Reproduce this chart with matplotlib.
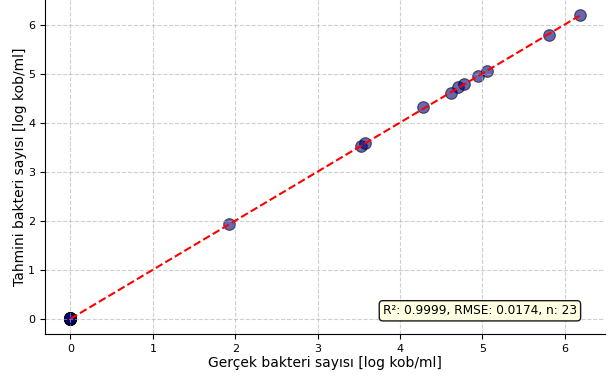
import numpy as np
import matplotlib
matplotlib.use("Agg")
import matplotlib.pyplot as plt

# gerçek / tahmini (log kob/ml)
actual = [0, 0, 0, 0, 0, 0, 0, 0, 0, 0, 0, 0,
          1.92, 3.53, 3.57, 4.28, 4.62, 4.71, 4.78, 4.95, 5.06, 5.81, 6.18]
predicted = [0.01, 0, 0.02, 0, 0.01, 0, 0, 0.01, 0, 0.02, 0, 0.01,
             1.94, 3.52, 3.58, 4.32, 4.61, 4.72, 4.79, 4.96, 5.05, 5.78, 6.19]
stats_text = "R²: 0.9999, RMSE: 0.0174, n: 23"

fig = plt.figure(figsize=(6.09, 3.76), dpi=100)
ax = fig.add_axes([45/609, 42/376, 560/609, 334/376])

ax.scatter(actual, predicted, s=70, color="navy", alpha=0.6, edgecolors="k", linewidths=0.8)
lo, hi = min(actual), max(actual)
ax.plot([lo, hi], [lo, hi], "r--", linewidth=1.5)

ax.set_xlabel("Gerçek bakteri sayısı [log kob/ml]", fontsize=10, labelpad=2)
ax.set_ylabel("Tahmini bakteri sayısı [log kob/ml]", fontsize=10, labelpad=1)
ax.tick_params(labelsize=8)
ax.grid(True, linestyle="--", alpha=0.6)
ax.spines["top"].set_visible(False)
ax.spines["right"].set_visible(False)

ax.text(0.95, 0.05, stats_text, transform=ax.transAxes, ha="right", va="bottom", fontsize=8.7,
        bbox=dict(boxstyle="round", facecolor="lightyellow", alpha=0.9))

fig.savefig("out.png", dpi=100)
